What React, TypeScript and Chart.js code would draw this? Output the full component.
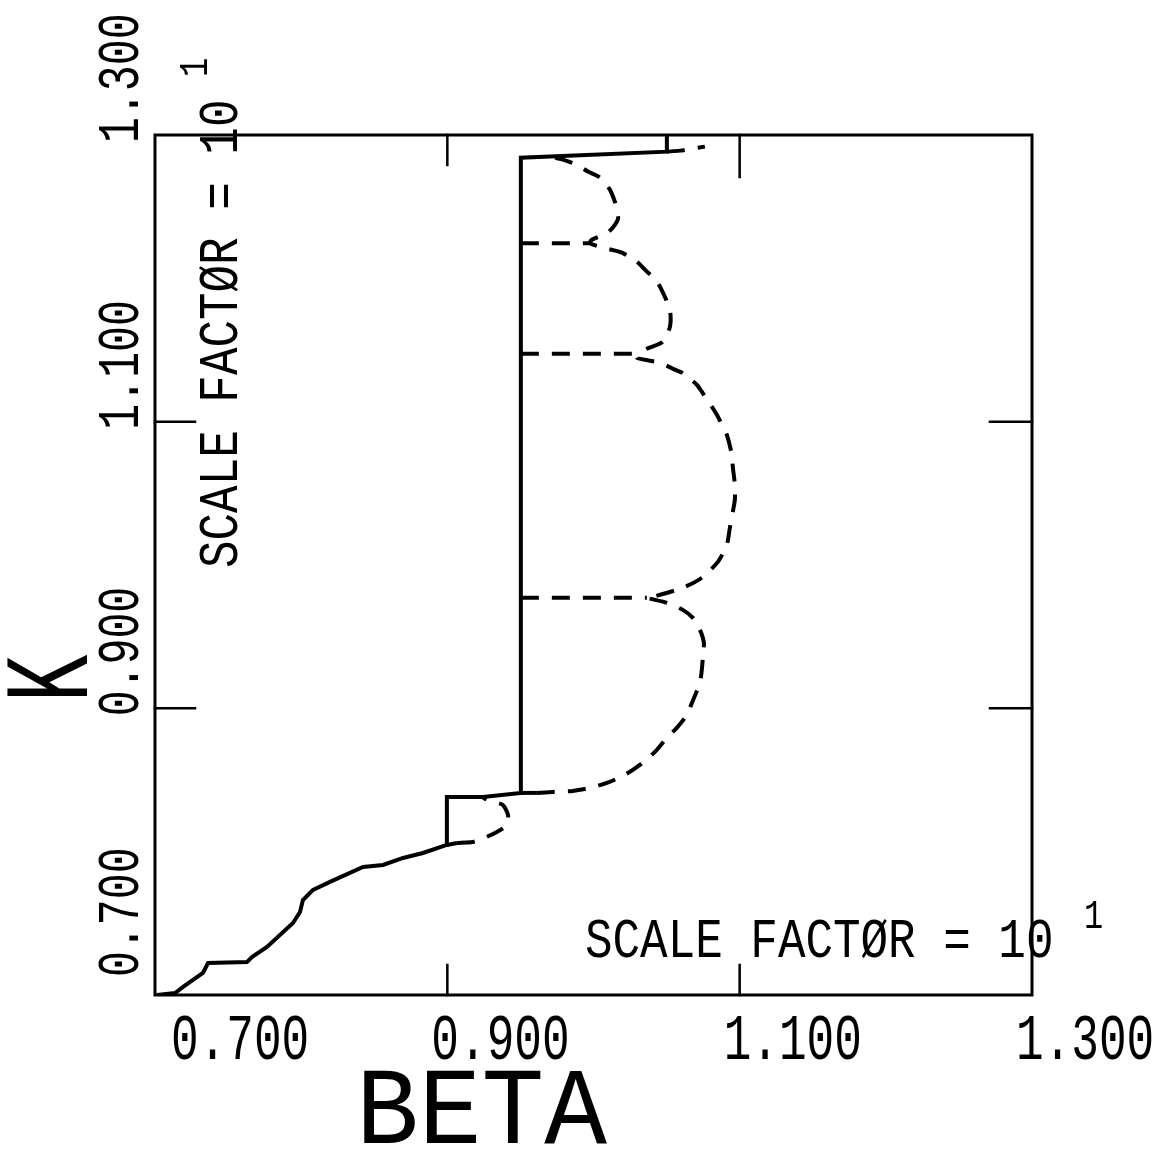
import React, { useEffect, useRef } from "react";
import { Chart, registerables } from "chart.js";

Chart.register(...registerables);

// ---- Axis ticks ----
const xTicks = [0.7, 0.9, 1.1, 1.3];
const yTicks = [0.7, 0.9, 1.1, 1.3];
const xTickLabels = ["0.700", "0.900", "1.100", "1.300"];
const yTickLabels = ["0.700", "0.900", "1.100", "1.300"];
const xTitle = "BETA";
const yTitle = "K";
const scaleNote = "SCALE FACTØR = 10";
const scaleExp = "1";

// ---- Solid boundary (BETA, K) ----
const solidBeta = [0.7014, 0.7137, 0.7192, 0.7328, 0.7363, 0.7629, 0.7663, 0.7766, 0.7944, 0.7992, 0.8012, 0.8081, 0.8197, 0.8423, 0.856, 0.8697, 0.8833, 0.8997, 0.8997, 0.9244, 0.9503, 0.9503, 1.0502, 1.0502];
const solidK = [0.7, 0.7014, 0.7056, 0.7154, 0.7223, 0.723, 0.7265, 0.7335, 0.7502, 0.7579, 0.7663, 0.7733, 0.7789, 0.7893, 0.7907, 0.7956, 0.7991, 0.8047, 0.8382, 0.8382, 0.841, 1.2842, 1.2884, 1.3];

const stubABeta = [0.8997, 0.9066];
const stubAK = [0.8047, 0.8061];
const stubBBeta = [0.9503, 0.9613];
const stubBK = [0.841, 0.841];

// ---- Dashed small loop ----
const loopBeta = [0.9066, 0.9175, 0.9223, 0.9339, 0.9408, 0.9415, 0.938, 0.9312, 0.9244];
const loopK = [0.8061, 0.8068, 0.8082, 0.8138, 0.8186, 0.8256, 0.8326, 0.8347, 0.8375];

// ---- Dashed lobes (continuous chain) ----
const lobeBeta = [
  0.9613, 0.9722, 0.9859, 0.9975, 1.0092, 1.0215, 1.0317, 1.042, 1.0502, 1.057, 1.0639, 1.0673, 1.0728, 1.0741, 1.0748, 1.0755, 1.0728, 1.068, 1.0611, 1.0502, 1.0365,
  1.0406, 1.0611, 1.0741, 1.0851, 1.0912, 1.0933, 1.0953, 1.0967, 1.0967, 1.0953, 1.0947, 1.0912, 1.0885, 1.0844, 1.081, 1.0741, 1.0707, 1.0605, 1.0557, 1.0454, 1.0386, 1.0297, 1.0317,
  1.0365, 1.0475, 1.0523, 1.0523, 1.0475, 1.0434, 1.0352, 1.0297, 1.0194, 1.0092, 0.9996, 0.9975,
  0.9989, 1.0098, 1.0167, 1.016, 1.0146, 1.0112, 1.0044, 0.9962, 0.9886, 0.9791, 0.9736,
];
const lobeK = [
  0.841, 0.8417, 0.8424, 0.8445, 0.848, 0.8536, 0.8605, 0.8696, 0.8794, 0.8864, 0.8954, 0.9038, 0.9178, 0.9269, 0.9352, 0.9457, 0.9548, 0.9631, 0.9687, 0.9736, 0.9771,
  0.9778, 0.9841, 0.9911, 1.0022, 1.0141, 1.026, 1.0371, 1.0455, 1.056, 1.0685, 1.0769, 1.0909, 1.0965, 1.1048, 1.1104, 1.1209, 1.1258, 1.1342, 1.1363, 1.1411, 1.1425, 1.1446, 1.1481,
  1.1509, 1.1558, 1.1663, 1.1781, 1.19, 1.1977, 1.2061, 1.2116, 1.2179, 1.2207, 1.2235, 1.2249,
  1.227, 1.2319, 1.241, 1.2479, 1.2535, 1.2619, 1.2703, 1.2745, 1.2793, 1.2828, 1.2842,
];

// ---- Dashed horizontal levels ----
const levelStartBeta = 0.9503;
const levelK = [0.9771, 1.1474, 1.2245];
const levelEndBeta = [1.0365, 1.0317, 0.9975];

// ---- Dashed tail at the top ----
const tailBeta = [1.0502, 1.0591, 1.0762];
const tailK = [1.2884, 1.2891, 1.2919];

const pts = (xs: number[], ys: number[]) => xs.map((x, i) => ({ x, y: ys[i] }));

const FONT = '"Liberation Mono", "DejaVu Sans Mono", monospace';

function drawText(
  ctx: CanvasRenderingContext2D,
  s: string,
  x: number,
  y: number,
  size: number,
  kx: number,
  rotated: boolean
) {
  ctx.save();
  ctx.translate(x, y);
  if (rotated) ctx.rotate(-Math.PI / 2);
  ctx.scale(kx, 1);
  ctx.font = `${size}px ${FONT}`;
  ctx.textAlign = "left";
  ctx.textBaseline = "alphabetic";
  ctx.fillStyle = "#000";
  ctx.fillText(s, 0, 0);
  ctx.restore();
}

const plotterPlugin = {
  id: "plotterFrame",
  afterDatasetsDraw(chart: any) {
    const ctx: CanvasRenderingContext2D = chart.ctx;
    const { left, right, top, bottom } = chart.chartArea;
    const xs = chart.scales.x;
    const ys = chart.scales.y;
    ctx.save();
    ctx.strokeStyle = "#000";
    ctx.lineWidth = 3;
    ctx.lineCap = "square";
    ctx.strokeRect(left, top, right - left, bottom - top);

    ctx.beginPath();
    xTicks.slice(1, 3).forEach((v, i) => {
      const px = xs.getPixelForValue(v);
      ctx.moveTo(px, bottom);
      ctx.lineTo(px, bottom - 30);
      ctx.moveTo(px, top);
      ctx.lineTo(px, top + (i === 0 ? 30 : 42));
    });
    yTicks.slice(1, 3).forEach((v) => {
      const py = ys.getPixelForValue(v);
      ctx.moveTo(left, py);
      ctx.lineTo(left + 40, py);
      ctx.moveTo(right, py);
      ctx.lineTo(right - 42, py);
    });
    ctx.lineWidth = 2.5;
    ctx.stroke();

    // x tick labels
    xTicks.forEach((v, i) => {
      const px = xs.getPixelForValue(v);
      drawText(ctx, xTickLabels[i], i === 0 ? px + 16 : px - 16, bottom + 64, 64, 0.72, false);
    });
    // y tick labels (rotated)
    yTicks.forEach((v, i) => {
      const py = ys.getPixelForValue(v);
      drawText(ctx, yTickLabels[i], left - 17, i === 0 ? py - 18 : py + 8, 60, 0.72, true);
    });

    // axis titles
    drawText(ctx, xTitle, left + 201, bottom + 148, 110, 0.95, false);
    drawText(ctx, yTitle, left - 68, ys.getPixelForValue(0.9) - 6, 120, 0.66, true);

    // scale factor notes
    drawText(ctx, scaleNote, left + 430, bottom - 38, 56, 0.82, false);
    drawText(ctx, scaleExp, left + 929, bottom - 67, 40, 0.8, false);
    drawText(ctx, scaleNote, left + 82, ys.getPixelForValue(0.7) - 427, 56, 0.82, true);
    drawText(ctx, scaleExp, left + 52, ys.getPixelForValue(0.7) - 918, 40, 0.8, true);

    ctx.restore();
  },
};

export default function App() {
  const ref = useRef<HTMLCanvasElement | null>(null);

  useEffect(() => {
    if (!ref.current) return;
    const solidStyle = {
      borderColor: "#000",
      borderWidth: 4,
      pointRadius: 0,
      tension: 0,
      fill: false,
      showLine: true,
    };
    const dashStyle = {
      ...solidStyle,
      borderDash: [18, 13],
      tension: 0.25,
    };
    const levelSets = levelK.map((k, i) => ({
      ...dashStyle,
      tension: 0,
      label: `level ${i + 1}`,
      data: pts([levelStartBeta, levelEndBeta[i]], [k, k]),
    }));
    const chart = new Chart(ref.current, {
      type: "line",
      data: {
        datasets: [
          { ...solidStyle, label: "boundary", data: pts(solidBeta, solidK) },
          { ...solidStyle, label: "stub A", data: pts(stubABeta, stubAK) },
          { ...solidStyle, label: "stub B", data: pts(stubBBeta, stubBK) },
          { ...dashStyle, label: "loop", data: pts(loopBeta, loopK) },
          { ...dashStyle, label: "lobes", data: pts(lobeBeta, lobeK) },
          ...levelSets,
          { ...dashStyle, label: "tail", data: pts(tailBeta, tailK) },
        ] as any,
      },
      options: {
        responsive: false,
        maintainAspectRatio: false,
        animation: false,
        devicePixelRatio: 1,
        layout: { padding: { left: 155, top: 135, right: 131, bottom: 154 } },
        plugins: { legend: { display: false }, tooltip: { enabled: false } },
        scales: {
          x: { type: "linear", min: 0.7, max: 1.3, display: false },
          y: { type: "linear", min: 0.7, max: 1.3, display: false },
        },
      },
      plugins: [plotterPlugin],
    });
    return () => chart.destroy();
  }, []);

  return (
    <div style={{ position: "absolute", left: 0, top: 0, width: 1163, height: 1149, background: "#fff" }}>
      <canvas ref={ref} width={1163} height={1149} style={{ display: "block", width: 1163, height: 1149 }} />
    </div>
  );
}
